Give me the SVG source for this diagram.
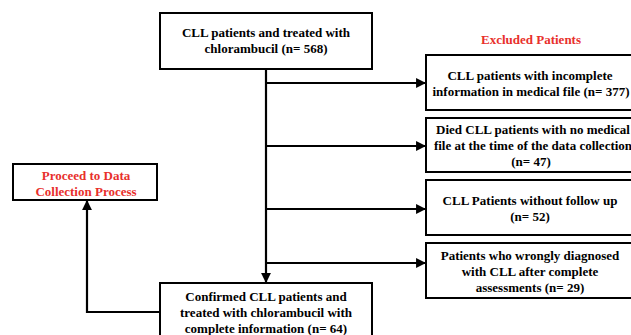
<svg xmlns="http://www.w3.org/2000/svg" width="631" height="335" viewBox="0 0 631 335">
<style>
.box{fill:#fff;stroke:#000;stroke-width:2}
.t{font-family:"Liberation Serif","Times New Roman",serif;font-weight:bold;font-size:13px;fill:#000;text-anchor:middle}
.r{fill:#e8302c}
.ln{fill:none;stroke:#000;stroke-width:2.2}
</style>
<defs>
<marker id="ah" viewBox="0 0 10 10" refX="9" refY="5" markerWidth="4.5" markerHeight="4.5" orient="auto" markerUnits="strokeWidth">
<path d="M0,0 L10,5 L0,10 z" fill="#000"/>
</marker>
</defs>
<rect width="631" height="335" fill="#fff"/>
<g id="connectors">
<path class="ln" d="M266,69 V282" marker-end="url(#ah)"/>
<path class="ln" d="M266,83 H425" marker-end="url(#ah)"/>
<path class="ln" d="M266,146 H425" marker-end="url(#ah)"/>
<path class="ln" d="M266,209 H425" marker-end="url(#ah)"/>
<path class="ln" d="M266,263 H425" marker-end="url(#ah)"/>
<path class="ln" d="M160,312 H87 V201" marker-end="url(#ah)"/>
</g>
<g id="start">
<rect class="box" x="160" y="13" width="212" height="56"/>
<text class="t" x="266" y="37">CLL patients and treated with</text>
<text class="t" x="266" y="53">chlorambucil (n= 568)</text>
</g>
<g id="excluded-label">
<text class="t r" x="531" y="44">Excluded Patients</text>
</g>
<g id="ex1">
<rect class="box" x="426" y="55" width="212" height="55"/>
<text class="t" x="530" y="80">CLL patients with incomplete</text>
<text class="t" x="531" y="96">information in medical file (n= 377)</text>
</g>
<g id="ex2">
<rect class="box" x="426" y="118" width="212" height="54"/>
<text class="t" x="533" y="134">Died CLL patients with no medical</text>
<text class="t" x="533" y="150">file at the time of the data collection</text>
<text class="t" x="531" y="166">(n= 47)</text>
</g>
<g id="ex3">
<rect class="box" x="426" y="180" width="212" height="55"/>
<text class="t" x="530" y="205">CLL Patients without follow up</text>
<text class="t" x="530" y="221">(n= 52)</text>
</g>
<g id="ex4">
<rect class="box" x="426" y="243" width="212" height="55"/>
<text class="t" x="530" y="260">Patients who wrongly diagnosed</text>
<text class="t" x="530" y="276">with CLL after complete</text>
<text class="t" x="530" y="292">assessments (n= 29)</text>
</g>
<g id="proceed">
<rect class="box" x="13" y="164" width="144" height="36"/>
<text class="t r" x="86" y="180">Proceed to Data</text>
<text class="t r" x="86" y="196">Collection Process</text>
</g>
<g id="confirmed">
<rect class="box" x="160" y="283" width="212" height="60"/>
<text class="t" x="266" y="301">Confirmed CLL patients and</text>
<text class="t" x="266" y="317">treated with chlorambucil with</text>
<text class="t" x="266" y="333">complete information (n= 64)</text>
</g>
</svg>
